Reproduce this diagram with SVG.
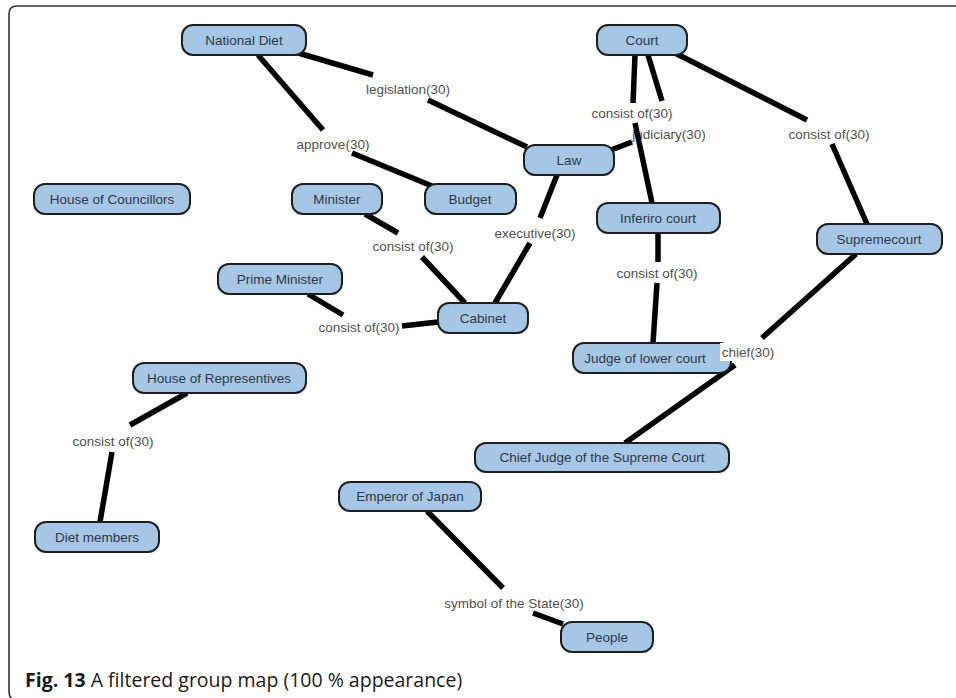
<svg xmlns="http://www.w3.org/2000/svg" width="956" height="698" viewBox="0 0 956 698">
  <style>
    .node rect { fill: #a6c6e6; stroke: #1e1e1e; stroke-width: 2; }
    .node text { font-family: "Liberation Sans", Arial, sans-serif; font-size: 13.5px; fill: #2e3846; text-anchor: middle; }
    .edge line { stroke: #000; stroke-width: 5.5; stroke-linecap: butt; }
    .lbl { font-family: "Liberation Sans", Arial, sans-serif; font-size: 13.5px; fill: #505050; text-anchor: middle; }
    .frame { fill: none; stroke: #333; stroke-width: 1.6; }
    .cap { font-family: "Open Sans", "Noto Sans", sans-serif; font-size: 19.5px; fill: #1a1a1a; }
  </style>

  <rect width="956" height="698" fill="#fff"/>
  <!-- panel frame -->
  <path class="frame" d="M956 6 H17 Q9 6 9 14 V690 Q9 698 12 698"/>

  <!-- connectors: each edge runs source -> label -> target -->
  <g id="connectors">
    <g class="edge" id="e-legislation">
      <line x1="295" y1="52" x2="373" y2="75"/>
      <line x1="428" y1="100" x2="527" y2="147"/>
      <text class="lbl" x="408" y="94">legislation(30)</text>
    </g>
    <g class="edge" id="e-approve">
      <line x1="258" y1="55" x2="323" y2="130"/>
      <line x1="352" y1="153" x2="432" y2="186"/>
      <text class="lbl" x="333" y="149">approve(30)</text>
    </g>
    <g class="edge" id="e-judiciary">
      <line x1="648" y1="55" x2="662" y2="101"/>
      <line x1="632" y1="142" x2="611" y2="150"/>
      <text class="lbl" x="669" y="139">judiciary(30)</text>
    </g>
    <g class="edge" id="e-court-inferiro">
      <line x1="635" y1="55" x2="633" y2="103"/>
      <line x1="635" y1="123" x2="652" y2="203"/>
      <text class="lbl" x="632" y="118">consist of(30)</text>
    </g>
    <g class="edge" id="e-court-supreme">
      <line x1="673" y1="52" x2="807" y2="120"/>
      <line x1="832" y1="144" x2="867" y2="224"/>
      <text class="lbl" x="829" y="139">consist of(30)</text>
    </g>
    <g class="edge" id="e-executive">
      <line x1="557" y1="175" x2="540" y2="218"/>
      <line x1="530" y1="243" x2="495" y2="303"/>
      <text class="lbl" x="535" y="238">executive(30)</text>
    </g>
    <g class="edge" id="e-minister-cabinet">
      <line x1="365" y1="214" x2="398" y2="233"/>
      <line x1="422" y1="257" x2="465" y2="303"/>
      <text class="lbl" x="413" y="251">consist of(30)</text>
    </g>
    <g class="edge" id="e-pm-cabinet">
      <line x1="308" y1="294" x2="343" y2="315"/>
      <line x1="402" y1="326" x2="438" y2="322"/>
      <text class="lbl" x="359" y="332">consist of(30)</text>
    </g>
    <g class="edge" id="e-inferiro-judge">
      <line x1="658" y1="233" x2="658" y2="262"/>
      <line x1="657" y1="283" x2="653" y2="343"/>
      <text class="lbl" x="657" y="278">consist of(30)</text>
    </g>
    <g class="edge" id="e-chief">
      <line x1="856" y1="254" x2="762" y2="338"/>
      <line x1="735" y1="365" x2="625" y2="443"/>
    </g>
    <g class="edge" id="e-rep-members">
      <line x1="187" y1="393" x2="130" y2="425"/>
      <line x1="112" y1="452" x2="100" y2="522"/>
      <text class="lbl" x="113" y="446">consist of(30)</text>
    </g>
    <g class="edge" id="e-symbol">
      <line x1="427" y1="511" x2="503" y2="588"/>
      <line x1="533" y1="613" x2="563" y2="624"/>
      <text class="lbl" x="514" y="608">symbol of the State(30)</text>
    </g>
  </g>

  <!-- nodes -->
  <g id="national-diet" class="node"><rect x="182" y="25" width="124" height="30" rx="11"/><text x="244" y="45">National Diet</text></g>
  <g id="court" class="node"><rect x="597" y="25" width="90" height="30" rx="11"/><text x="642" y="45">Court</text></g>
  <g id="law" class="node"><rect x="524" y="145" width="90" height="30" rx="11"/><text x="569" y="165">Law</text></g>
  <g id="budget" class="node"><rect x="425" y="184" width="91" height="30" rx="11"/><text x="470" y="204">Budget</text></g>
  <g id="house-of-councillors" class="node"><rect x="34" y="184" width="156" height="30" rx="11"/><text x="112" y="204">House of Councillors</text></g>
  <g id="minister" class="node"><rect x="292" y="184" width="90" height="30" rx="11"/><text x="337" y="204">Minister</text></g>
  <g id="inferiro-court" class="node"><rect x="597" y="203" width="123" height="30" rx="11"/><text x="658" y="223">Inferiro court</text></g>
  <g id="supremecourt" class="node"><rect x="817" y="224" width="125" height="30" rx="11"/><text x="879" y="244">Supremecourt</text></g>
  <g id="prime-minister" class="node"><rect x="218" y="264" width="124" height="30" rx="11"/><text x="280" y="284">Prime Minister</text></g>
  <g id="cabinet" class="node"><rect x="438" y="303" width="90" height="30" rx="11"/><text x="483" y="323">Cabinet</text></g>
  <g id="judge-of-lower-court" class="node"><rect x="573" y="343" width="158" height="30" rx="11"/><text x="645" y="363">Judge of lower court</text></g>
  <g id="chief-judge" class="node"><rect x="475" y="443" width="254" height="29" rx="11"/><text x="602" y="462">Chief Judge of the Supreme Court</text></g>
  <g id="house-of-representives" class="node"><rect x="133" y="363" width="173" height="30" rx="11"/><text x="219" y="383">House of Representives</text></g>
  <g id="diet-members" class="node"><rect x="35" y="522" width="124" height="30" rx="11"/><text x="97" y="542">Diet members</text></g>
  <g id="emperor-of-japan" class="node"><rect x="339" y="482" width="142" height="29" rx="11"/><text x="410" y="501">Emperor of Japan</text></g>
  <g id="people" class="node"><rect x="561" y="622" width="92" height="30" rx="11"/><text x="607" y="642">People</text></g>

  <!-- chief(30) label sits over the node edge on a white patch -->
  <g id="chief-label">
    <rect x="720" y="343" width="56" height="18" fill="#fff"/>
    <text class="lbl" x="748" y="357">chief(30)</text>
  </g>

  <text class="cap" x="25" y="687"><tspan font-weight="bold">Fig. 13</tspan> A filtered group map (100 % appearance)</text>
</svg>
